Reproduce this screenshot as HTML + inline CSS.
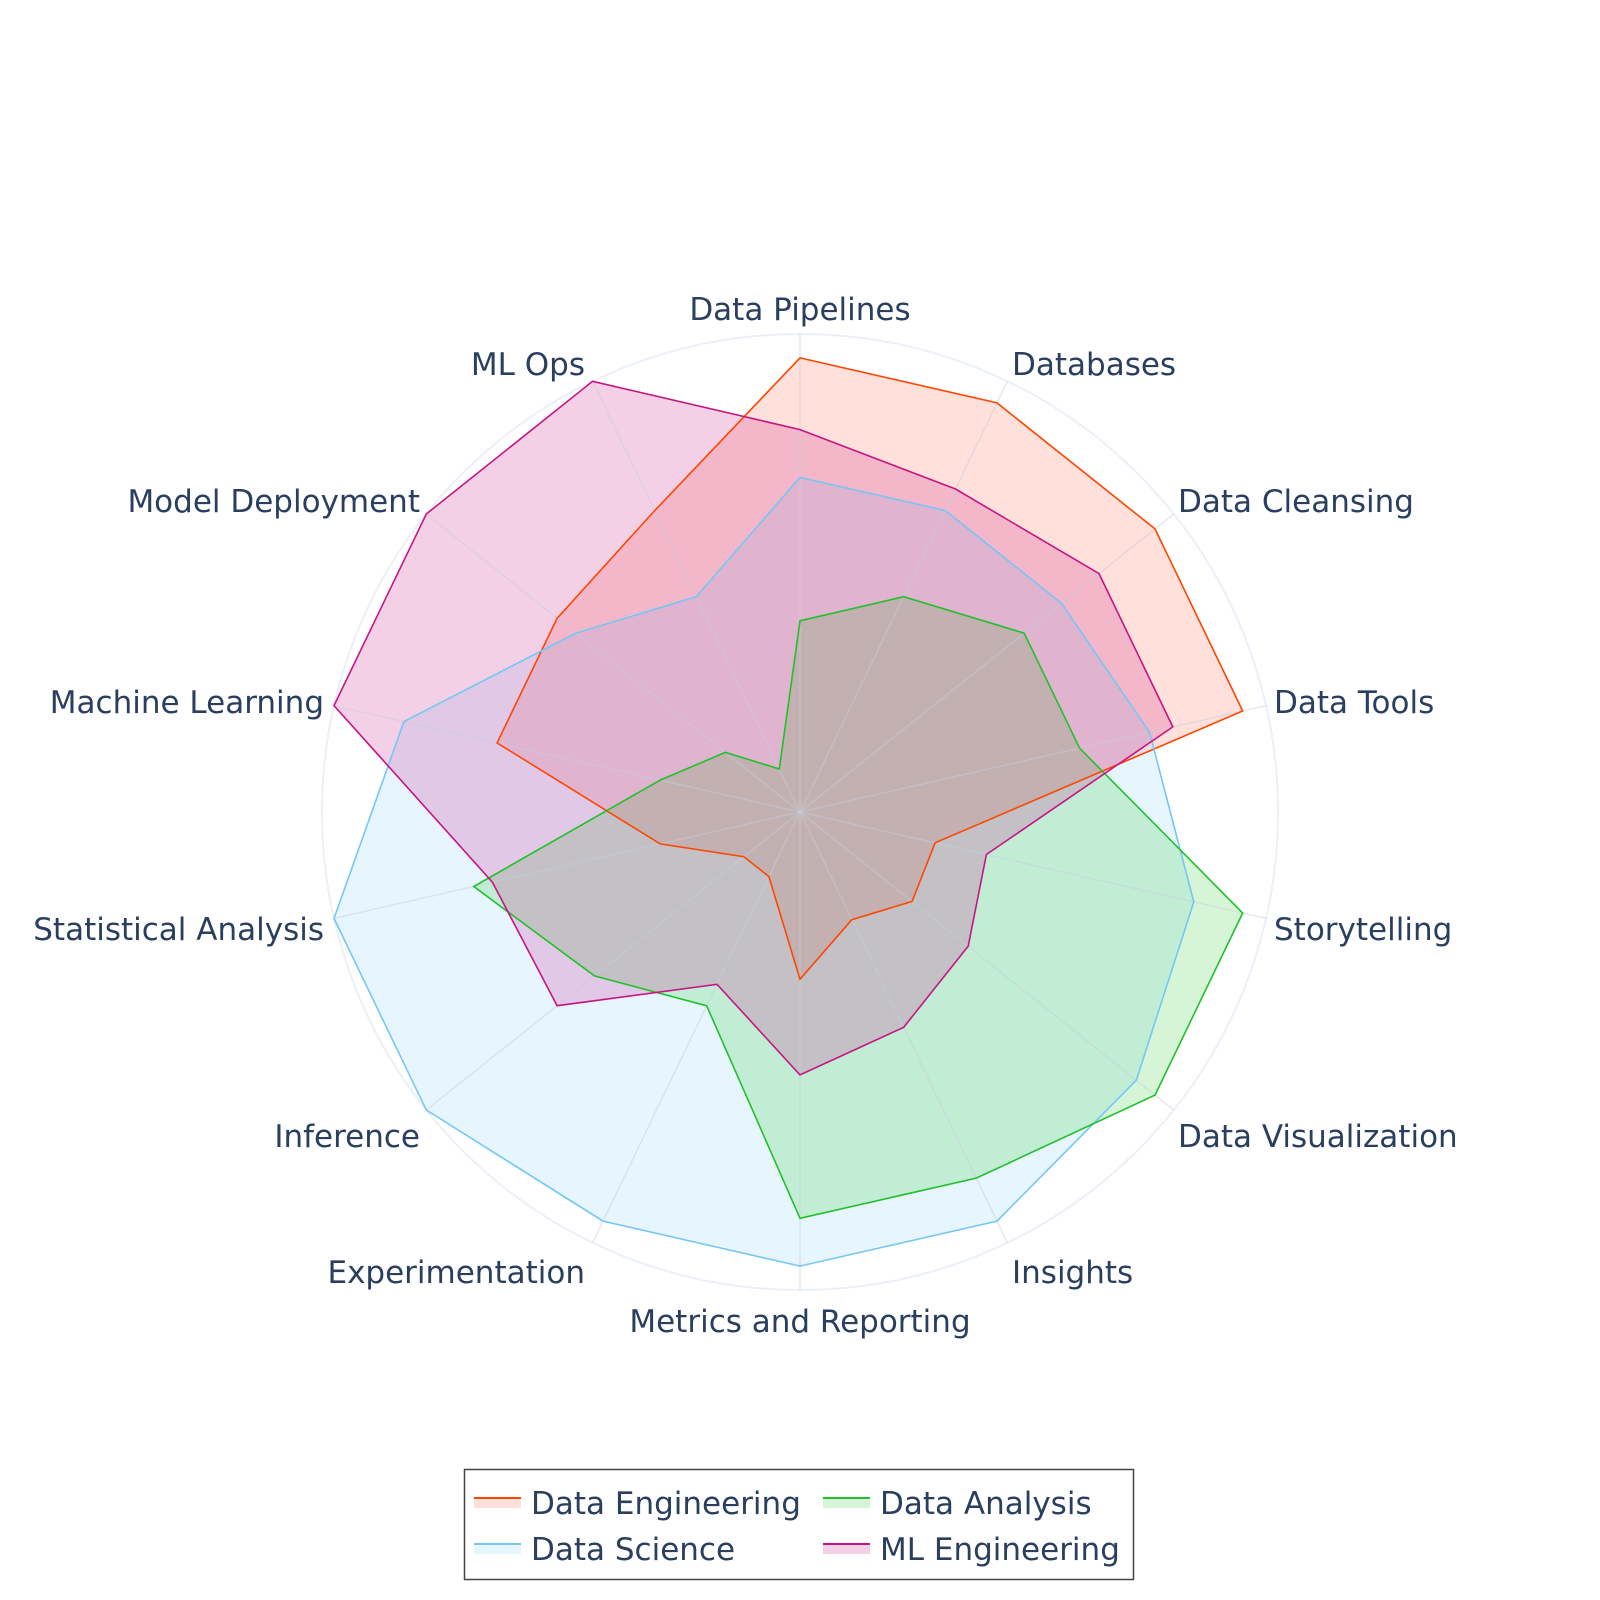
<!DOCTYPE html>
<html><head><meta charset="utf-8"><style>
html,body{margin:0;padding:0;background:#fff;}
svg{display:block;font-family:"DejaVu Sans","Liberation Sans",sans-serif;}
</style></head><body>
<svg id="s" width="1600" height="1600" viewBox="0 0 1600 1600" xmlns="http://www.w3.org/2000/svg">
<g id="grid"></g>
<g id="series"></g>
<g id="labels" font-size="31" fill="#2a3f5f"></g>
<rect x="464.5" y="1469.5" width="669" height="110" fill="#fff" stroke="#444" stroke-width="1.5"/>
<g font-size="31" fill="#2a3f5f">
<rect x="474" y="1498" width="47" height="10" fill="rgba(255,99,71,0.2)"/><line x1="474" y1="1498" x2="521" y2="1498" stroke="#ff4500" stroke-width="2"/>
<text x="531" y="1514">Data Engineering</text>
<rect x="823" y="1498" width="47" height="10" fill="rgba(50,205,50,0.2)"/><line x1="823" y1="1498" x2="870" y2="1498" stroke="#22c02a" stroke-width="2"/>
<text x="880" y="1514">Data Analysis</text>
<rect x="474" y="1544" width="47" height="10" fill="rgba(135,206,250,0.2)"/><line x1="474" y1="1544" x2="521" y2="1544" stroke="#74c7f5" stroke-width="2"/>
<text x="531" y="1560">Data Science</text>
<rect x="823" y="1544" width="47" height="10" fill="rgba(199,21,133,0.2)"/><line x1="823" y1="1544" x2="870" y2="1544" stroke="#c71585" stroke-width="2"/>
<text x="880" y="1560">ML Engineering</text>
</g>
</svg>
<script>
var cx=800,cy=812,R=478,N=14,NS="http://www.w3.org/2000/svg";
function el(t,a,p){var e=document.createElementNS(NS,t);for(var k in a)e.setAttribute(k,a[k]);p.appendChild(e);return e;}
function pt(i,f){var a=i*2*Math.PI/N;return [cx+R*f*Math.sin(a),cy-R*f*Math.cos(a)];}
var g=document.getElementById('grid');
el('circle',{cx:cx,cy:cy,r:R,fill:'none',stroke:'#ebf0f8','stroke-width':2},g);
var sg=document.getElementById('series');
var data=[
 {f:'rgba(255,99,71,0.2)',l:'#ff4500',v:[.95,.95,.95,.95,.29,.30,.25,.35,.15,.15,.30,.65,.65,.70]},
 {f:'rgba(135,206,250,0.2)',l:'#74c7f5',v:[.70,.70,.70,.75,.845,.90,.95,.95,.95,1,1,.85,.60,.50]},
 {f:'rgba(50,205,50,0.2)',l:'#22c02a',v:[.40,.50,.60,.60,.95,.95,.85,.85,.45,.55,.70,.30,.20,.10]},
 {f:'rgba(199,21,133,0.2)',l:'#c71585',v:[.80,.75,.80,.80,.40,.45,.50,.55,.40,.65,.66,1,1,1]}
];
data.forEach(function(d){var p=d.v.map(function(v,i){return pt(i,v).map(function(x){return x.toFixed(1)}).join(',')}).join(' ');
 el('polygon',{points:p,fill:d.f,stroke:'none'},sg);});
for(var i=0;i<N;i++){var q=pt(i,1);el('line',{x1:cx,y1:cy,x2:q[0],y2:q[1],stroke:'rgba(200,205,220,0.45)','stroke-width':1.5},sg);}
data.forEach(function(d){var p=d.v.map(function(v,i){return pt(i,v).map(function(x){return x.toFixed(1)}).join(',')}).join(' ');
 el('polygon',{points:p,fill:'none',stroke:d.l,'stroke-width':1.6},sg);});
var L=[["Data Pipelines",800,309,"middle"],["Databases",1012,364,"start"],["Data Cleansing",1178,501,"start"],["Data Tools",1274,702,"start"],["Storytelling",1274,929,"start"],["Data Visualization",1178,1136,"start"],["Insights",1012,1272,"start"],["Metrics and Reporting",800,1321,"middle"],["Experimentation",585,1272,"end"],["Inference",420,1136,"end"],["Statistical Analysis",324,929,"end"],["Machine Learning",324,702,"end"],["Model Deployment",420,501,"end"],["ML Ops",585,364,"end"]];
var lg=document.getElementById('labels');
L.forEach(function(l){var t=el('text',{x:l[1],y:l[2]+11,'text-anchor':l[3]},lg);t.textContent=l[0];});
</script>
</body></html>
